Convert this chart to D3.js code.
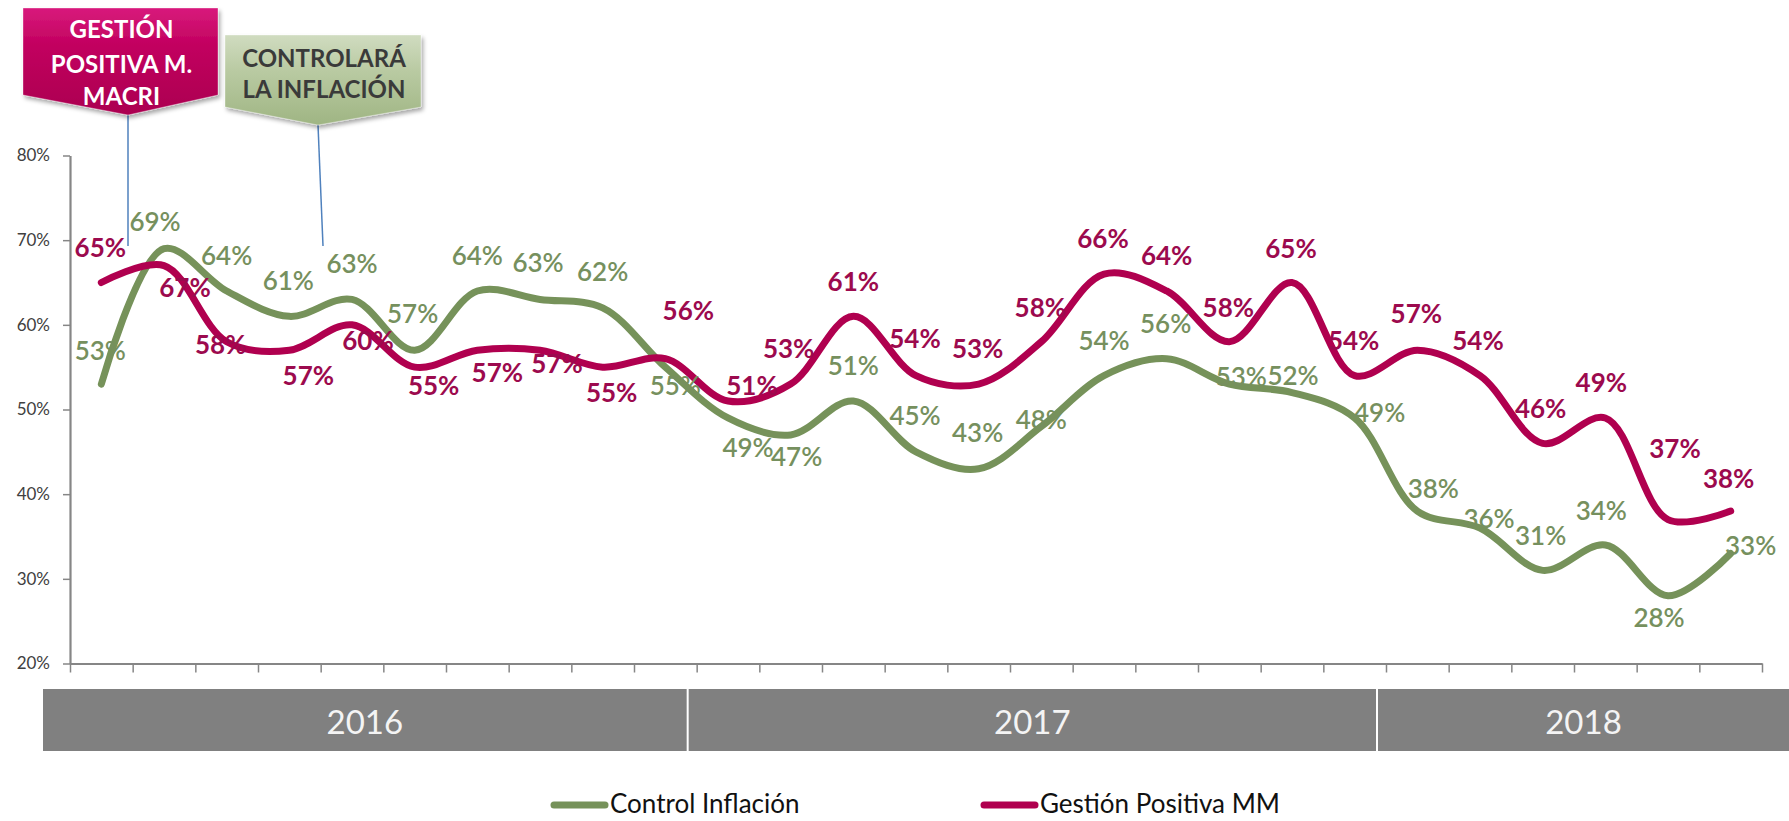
<!DOCTYPE html>
<html>
<head>
<meta charset="utf-8">
<script src="https://cdn.jsdelivr.net/npm/d3@7"></script>
<style>
  body { margin: 0; background: #fff; }
  text { font-family: Lato, Calibri, "Open Sans", sans-serif; }
</style>
</head>
<body>
<div id="chart"></div>
<script>
// survey waves (labels hidden under the year band in the original)
let surveys = ["1", "2", "3", "4", "5", "6", "7", "8", "9", "10", "11", "12", "13", "14",
  "15", "16", "17", "18", "19", "20", "21", "22", "23", "24", "25", "26", "27"];
let controlInflacion = [53, 69, 64, 61, 63, 57, 64, 63, 62, 55, 49, 47, 51, 45, 43, 48, 54, 56, 53, 52, 49, 38, 36, 31, 34, 28, 33];
let gestionPositiva = [65, 67, 58, 57, 60, 55, 57, 57, 55, 56, 51, 53, 61, 54, 53, 58, 66, 64, 58, 65, 54, 57, 54, 46, 49, 37, 38];
let yTicks = [20, 30, 40, 50, 60, 70, 80];
let years = ["2016", "2017", "2018"];
let surveysPerYear = [10, 11, 6];
let seriesNames = ["Control Inflación", "Gestión Positiva MM"];
let calloutTexts = [["GESTIÓN", "POSITIVA M.", "MACRI"], ["CONTROLARÁ", "LA INFLACIÓN"]];

// hand placed label nudges, like in the excel original [dx, dy]
let greenNudge = [[-1,-34],[-9,-28],[0,-36],[-1,-36],[0,-36],[-2,-37],[0,-36],[-2,-37],[0,-37],[10,18],
  [20,29],[6,21],[0,-36],[-1,-37],[-1,-37],[0,-7],[0,-36],[-1,-36],[12,-8],[1,-18],[25,-6],[16,-23],
  [9,-10],[-2,-35],[-4,-35],[-9,21],[20,-8]];
let redNudge = [[-1,-36],[21,21],[-6,2],[19,25],[16,15],[19,18],[20,22],[17,13],[9,25],[23,-49],
  [24,-16],[-2,-36],[0,-35],[-1,-38],[-1,-36],[-1,-35],[-1,-36],[0,-36],[-1,-35],[-1,-35],[-1,-36],
  [-1,-37],[-2,-36],[-2,-35],[-4,-36],[7,-72],[-2,-33]];

let areaWidth = 1789;
let areaHeight = 821;
let green = "#76925a";
let greenText = "#76905e";
let red = "#b0004f";
let redText = "#9c0a4e";

let svg = d3.select("#chart").append("svg")
  .attr("width", areaWidth)
  .attr("height", areaHeight);

let defs = svg.append("defs");
let gradRed = defs.append("linearGradient").attr("id", "gradRed")
  .attr("x1", 0).attr("y1", 0).attr("x2", 0).attr("y2", 1);
gradRed.append("stop").attr("offset", "0%").attr("stop-color", "#d81a7c");
gradRed.append("stop").attr("offset", "35%").attr("stop-color", "#c2005f");
gradRed.append("stop").attr("offset", "100%").attr("stop-color", "#ab0050");
let gradGreen = defs.append("linearGradient").attr("id", "gradGreen")
  .attr("x1", 0).attr("y1", 0).attr("x2", 0).attr("y2", 1);
gradGreen.append("stop").attr("offset", "0%").attr("stop-color", "#d0dcc0");
gradGreen.append("stop").attr("offset", "40%").attr("stop-color", "#b9caa2");
gradGreen.append("stop").attr("offset", "100%").attr("stop-color", "#9fb583");
let shadow = defs.append("filter").attr("id", "shadow")
  .attr("x", "-10%").attr("y", "-10%").attr("width", "130%").attr("height", "140%");
shadow.append("feDropShadow").attr("dx", 2).attr("dy", 3).attr("stdDeviation", 2)
  .attr("flood-color", "#000").attr("flood-opacity", 0.35);

let plotLeft = 70, plotRight = 1762, plotTop = 155.5, plotBottom = 663.5;

let xBand = d3.scaleBand().domain(surveys).range([plotLeft, plotRight]).padding(0);
let xEdge = d3.scaleLinear().domain([0, surveys.length]).range([plotLeft, plotRight]);
let y = d3.scaleLinear().domain([20, 80]).range([plotBottom, plotTop]);
let xMid = d => xBand(d) + xBand.bandwidth() / 2;

// axes
let yAx = svg.append("g").attr("transform", `translate(${plotLeft},0)`)
  .call(d3.axisLeft(y).tickValues(yTicks).tickFormat(d => d + "%").tickSize(7).tickSizeOuter(0));
yAx.select(".domain").attr("stroke", "#868686").attr("stroke-width", 2.2);
yAx.selectAll(".tick line").attr("stroke", "#868686").attr("stroke-width", 1.5);
yAx.selectAll(".tick text").attr("x", -20).attr("fill", "#404040")
  .style("font-size", "17px").style("font-family", "Lato, sans-serif");

let xAx = svg.append("g").attr("transform", `translate(0,${plotBottom})`)
  .call(d3.axisBottom(xEdge).tickValues(d3.range(surveys.length + 1)).tickFormat("").tickSize(9).tickSizeOuter(0));
xAx.select(".domain").attr("stroke", "#868686").attr("stroke-width", 2.2);
xAx.selectAll(".tick line").attr("stroke", "#868686").attr("stroke-width", 1.5);

// year table under the axis
let start = 0;
let bandData = years.map(function(yr, i) {
  let x0 = i === 0 ? 43 : xEdge(start) - 9 + 1;
  let x1 = i === years.length - 1 ? areaWidth : xEdge(start + surveysPerYear[i]) - 9 - 1;
  start += surveysPerYear[i];
  return {year: yr, x0: x0, x1: x1};
});
let bands = svg.append("g");
bands.selectAll("rect").data(bandData).enter().append("rect")
  .attr("x", d => d.x0).attr("y", 689)
  .attr("width", d => d.x1 - d.x0).attr("height", 62)
  .attr("fill", "#808080");
bands.selectAll("text").data(bandData).enter().append("text")
  .attr("x", d => (d.x0 + d.x1) / 2).attr("y", 721)
  .attr("text-anchor", "middle").attr("dominant-baseline", "central")
  .attr("fill", "#f4f4f4").style("font-size", "33px")
  .text(d => d.year);

// lines
let series = [
  {name: seriesNames[0], values: controlInflacion, color: green, textColor: greenText, nudge: greenNudge, weight: 600},
  {name: seriesNames[1], values: gestionPositiva, color: red, textColor: redText, nudge: redNudge, weight: "bold"}
];

let lineGen = d3.line()
  .x((d, i) => xMid(surveys[i]))
  .y(d => y(d))
  .curve(d3.curveCatmullRom.alpha(0.5));

let plotGroup = svg.append("g");
plotGroup.selectAll("path").data(series).enter().append("path")
  .attr("d", d => lineGen(d.values))
  .attr("fill", "none")
  .attr("stroke", d => d.color)
  .attr("stroke-width", 7)
  .attr("stroke-linecap", "round")
  .attr("stroke-linejoin", "round");

series.forEach(function(s) {
  plotGroup.append("g").selectAll("text").data(s.values).enter().append("text")
    .attr("x", (d, i) => xMid(surveys[i]) + s.nudge[i][0])
    .attr("y", (d, i) => y(d) + s.nudge[i][1])
    .attr("text-anchor", "middle").attr("dominant-baseline", "central")
    .attr("fill", s.textColor)
    .style("font-size", "26px").style("font-weight", s.weight)
    .text(d => d + "%");
});

// callouts
let calloutBoxes = [
  {texts: calloutTexts[0], x0: 23, x1: 218, y0: 8, y1: 95, px: 128, py: 115, fill: "url(#gradRed)", color: "#fff",
    lineTo: [128, 246], textY: [28, 63, 95]},
  {texts: calloutTexts[1], x0: 225, x1: 421, y0: 35, y1: 107, px: 318, py: 125, fill: "url(#gradGreen)", color: "#3a3a3a",
    lineTo: [323, 246], textY: [57, 88]}
];
calloutBoxes.forEach(function(c) {
  let g = svg.append("g");
  g.append("line")
    .attr("x1", c.px).attr("y1", c.py).attr("x2", c.lineTo[0]).attr("y2", c.lineTo[1])
    .attr("stroke", "#4f81bd").attr("stroke-width", 1.5);
  g.append("path")
    .attr("d", `M${c.x0},${c.y0}L${c.x1},${c.y0}L${c.x1},${c.y1}L${c.px},${c.py}L${c.x0},${c.y1}Z`)
    .attr("fill", c.fill).attr("filter", "url(#shadow)")
    .attr("stroke", "rgba(255,255,255,0.35)").attr("stroke-width", 1);
  g.selectAll("text").data(c.texts).enter().append("text")
    .attr("x", (c.x0 + c.x1) / 2 + 1).attr("y", (d, i) => c.textY[i])
    .attr("text-anchor", "middle").attr("dominant-baseline", "central")
    .attr("fill", c.color).style("font-size", "24px").style("font-weight", "bold")
    .text(d => d);
});

// legend
let legend = svg.append("g");
let legendItems = [{x: 551, name: seriesNames[0], color: green}, {x: 981, name: seriesNames[1], color: red}];
legend.selectAll("line").data(legendItems).enter().append("line")
  .attr("x1", d => d.x + 3).attr("x2", d => d.x + 54).attr("y1", 805).attr("y2", 805)
  .attr("stroke", d => d.color).attr("stroke-width", 7).attr("stroke-linecap", "round");
legend.selectAll("text").data(legendItems).enter().append("text")
  .attr("x", d => d.x + 59).attr("y", 803)
  .attr("dominant-baseline", "central").attr("fill", "#111")
  .style("font-size", "26px")
  .text(d => d.name);
</script>
</body>
</html>
